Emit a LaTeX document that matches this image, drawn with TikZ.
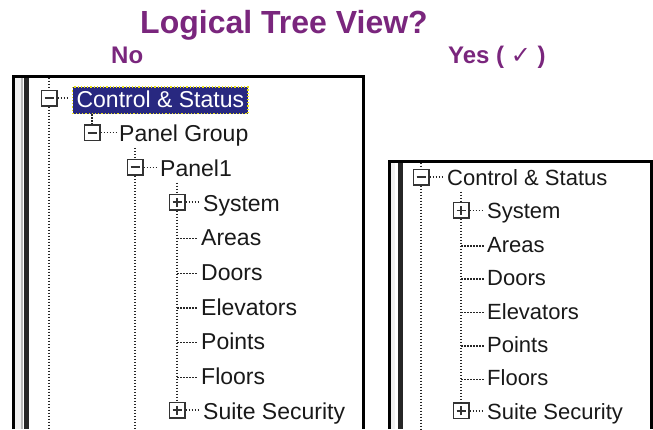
\documentclass[tikz,border=0pt]{standalone}
\usepackage{fontspec}
\setmainfont{Liberation Sans}
\newfontfamily\checkfont{DejaVu Sans}
\usetikzlibrary{calc,positioning}
\definecolor{plum}{RGB}{122,38,125}
\definecolor{selblue}{RGB}{40,40,128}

\begin{document}
\begin{tikzpicture}[x=1pt,y=-1pt]
  \tikzstyle{heading} = [text=plum, inner sep=0, anchor=base, font=\fontsize{32}{32}\selectfont\bfseries]
  \tikzstyle{answer} = [text=plum, inner sep=0, anchor=base west, font=\fontsize{24}{24}\selectfont\bfseries]
  \tikzstyle{item} = [anchor=base west, inner sep=0, text height=17pt, text depth=6pt, text=black!90, font=\fontsize{23}{23}\selectfont]
  \tikzstyle{sitem} = [item, font=\fontsize{22}{22}\selectfont]
  \tikzstyle{selitem} = [item, text=white, fill=selblue, draw=yellow!90!black, dotted, line width=1.2pt, inner xsep=4pt, inner ysep=3pt, text depth=3.5pt]
  \tikzstyle{treeline} = [black!85, line width=1.5pt, dash pattern=on 1.5pt off 1.5pt]
  \tikzstyle{xbox} = [draw=black!80, fill=white, line width=1.5pt, minimum size=15.5pt, inner sep=0]
  \tikzstyle{minusbox} = [xbox, path picture={\draw[line width=1.8pt] ([xshift=-4.5pt]path picture bounding box.center) -- ([xshift=4.5pt]path picture bounding box.center);}]
  \tikzstyle{plusbox} = [xbox, path picture={\draw[line width=1.8pt] ([xshift=-4.5pt]path picture bounding box.center) -- ([xshift=4.5pt]path picture bounding box.center) ([yshift=-4.5pt]path picture bounding box.center) -- ([yshift=4.5pt]path picture bounding box.center);}]

  \useasboundingbox (0,0) rectangle (653,429);

  % headings
  \node[heading] (title) at (284,33) {Logical Tree View?};
  \node[answer] (no) at (111,63) {No};
  \node[answer] (yes) at (448,63) {Yes ( {\checkfont ✓} )};

  % left window frame
  \fill[gray!12] (15,77.5) rectangle (20.5,429);
  \fill[gray!55] (20.5,77.5) rectangle (23,429);
  \fill[black!85] (24,77.5) rectangle (28.5,429);
  \draw[line width=3pt] (13.5,429) -- (13.5,76) -- (363,76) -- (363,429);

  % right window frame
  \fill[gray!12] (391,162.5) rectangle (395,429);
  \fill[black!85] (397.5,162.5) rectangle (402.5,429);
  \draw[line width=3pt] (389.5,429) -- (389.5,161) -- (651,161) -- (651,429);

  % left tree
  \node[selitem] (t0) at (72,107) {Control \& Status};
  \node[item] (t1) at (119,141.7) {Panel Group};
  \node[item] (t2) at (160,176.3) {Panel1};
  \node[item] (t3) at (203,211) {System};
  \node[item] (t4) at (201,245.7) {Areas};
  \node[item] (t5) at (201,280.3) {Doors};
  \node[item] (t6) at (201,315) {Elevators};
  \node[item] (t7) at (201,349.7) {Points};
  \node[item] (t8) at (201,384.3) {Floors};
  \node[item] (t9) at (203,419) {Suite Security};

  \coordinate (topA) at (49,77.5);
  \coordinate (botA) at (49,429);
  \coordinate (botB) at (135,429);
  \coordinate (j4) at (177,238.7);
  \coordinate (j5) at (177,273.3);
  \coordinate (j6) at (177,308);
  \coordinate (j7) at (177,342.7);
  \coordinate (j8) at (177,377.3);

  \node[minusbox] (b0) at (49,98) {};
  \node[minusbox] (b1) at (92,132.7) {};
  \node[minusbox] (b2) at (135,167.3) {};
  \node[plusbox] (b3) at (177,202) {};
  \node[plusbox] (b9) at (177,410) {};

  \draw[treeline] (topA) -- (b0);
  \draw[treeline] (b0) -- (botA);
  \draw[treeline] (b1 |- t0.south) -- (b1);
  \draw[treeline] (b2 |- t1.south) -- (b2);
  \draw[treeline] (b2) -- (botB);
  \draw[treeline] (b3 |- t2.south) -- (b3);
  \draw[treeline] (b3) -- (b9);

  \draw[treeline, shorten >=3pt] (b0.east) -- (b0 -| t0.west);
  \draw[treeline, shorten >=3pt] (b1.east) -- (b1 -| t1.west);
  \draw[treeline, shorten >=3pt] (b2.east) -- (b2 -| t2.west);
  \draw[treeline, shorten >=3pt] (b3.east) -- (b3 -| t3.west);
  \draw[treeline, shorten >=3pt] (b9.east) -- (b9 -| t9.west);
  \draw[treeline, shorten >=3pt] (j4) -- (j4 -| t4.west);
  \draw[treeline, shorten >=3pt] (j5) -- (j5 -| t5.west);
  \draw[treeline, shorten >=3pt] (j6) -- (j6 -| t6.west);
  \draw[treeline, shorten >=3pt] (j7) -- (j7 -| t7.west);
  \draw[treeline, shorten >=3pt] (j8) -- (j8 -| t8.west);

  % right tree
  \node[sitem] (u0) at (447,185.5) {Control \& Status};
  \node[sitem] (u1) at (487,218.9) {System};
  \node[sitem] (u2) at (487,252.3) {Areas};
  \node[sitem] (u3) at (487,285.7) {Doors};
  \node[sitem] (u4) at (487,319.1) {Elevators};
  \node[sitem] (u5) at (487,352.5) {Points};
  \node[sitem] (u6) at (487,385.9) {Floors};
  \node[sitem] (u7) at (487,419.3) {Suite Security};

  \coordinate (topC) at (421,162.5);
  \coordinate (botC) at (421,429);
  \coordinate (k2) at (461,245.8);
  \coordinate (k3) at (461,279.2);
  \coordinate (k4) at (461,312.6);
  \coordinate (k5) at (461,346);
  \coordinate (k6) at (461,379.4);

  \node[minusbox] (c0) at (421,177) {};
  \node[plusbox] (c1) at (461,210.4) {};
  \node[plusbox] (c7) at (461,410.8) {};

  \draw[treeline] (topC) -- (c0);
  \draw[treeline] (c0) -- (botC);
  \draw[treeline] (c1 |- u0.south) -- (c1);
  \draw[treeline] (c1) -- (c7);

  \draw[treeline, shorten >=3pt] (c0.east) -- (c0 -| u0.west);
  \draw[treeline, shorten >=3pt] (c1.east) -- (c1 -| u1.west);
  \draw[treeline, shorten >=3pt] (c7.east) -- (c7 -| u7.west);
  \draw[treeline, shorten >=3pt] (k2) -- (k2 -| u2.west);
  \draw[treeline, shorten >=3pt] (k3) -- (k3 -| u3.west);
  \draw[treeline, shorten >=3pt] (k4) -- (k4 -| u4.west);
  \draw[treeline, shorten >=3pt] (k5) -- (k5 -| u5.west);
  \draw[treeline, shorten >=3pt] (k6) -- (k6 -| u6.west);
\end{tikzpicture}
\end{document}
